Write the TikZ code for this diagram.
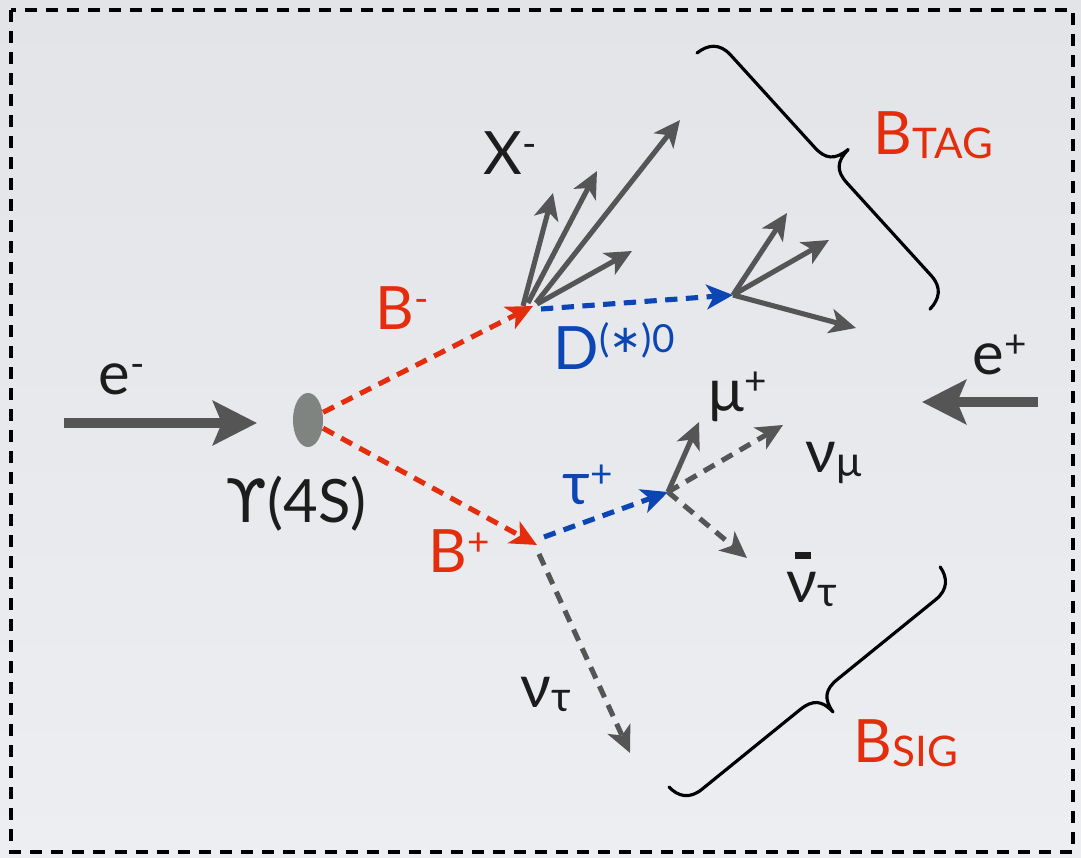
\documentclass[tikz,border=0pt]{standalone}
\usepackage{fontspec}
\setmainfont{Lato}
\newfontfamily\dvs{DejaVu Sans}
\usetikzlibrary{arrows.meta,shapes.geometric}
\definecolor{bgtop}{RGB}{226,228,232}
\definecolor{bgbot}{RGB}{237,238,241}
\definecolor{pred}{RGB}{228,45,12}
\definecolor{pblue}{RGB}{12,70,180}
\definecolor{pgray}{RGB}{85,85,85}
\definecolor{ptext}{RGB}{28,28,28}
\definecolor{blob}{RGB}{127,132,128}
\newcommand\sups[1]{\raisebox{5pt}{\fontsize{11}{13}\selectfont #1}}
\newcommand\subs[1]{\raisebox{-1pt}{\fontsize{12}{14}\selectfont #1}}
\newcommand\nubar{\makebox[0pt][l]{\hspace{2.4pt}\raisebox{12.5pt}{\rule{4.4pt}{2pt}}}ν}
\begin{document}
\begin{tikzpicture}[x=0.01cm,y=-0.01cm,
  lbl/.style={inner sep=0pt, anchor=base west, font=\fontsize{17}{20}\selectfont, text=ptext},
  redlbl/.style={lbl, text=pred},
  bluelbl/.style={lbl, text=pblue},
  prod/.style={draw=pgray, line width=1.45pt, -{Stealth[length=7.5pt,width=7pt,inset=2pt]}},
  dsh/.style={prod, dash pattern=on 3.5pt off 2.4pt},
  reddsh/.style={dsh, draw=pred, -{Stealth[length=7.5pt,width=7pt,inset=2pt,fill=pred]}},
  bluedsh/.style={dsh, draw=pblue, -{Stealth[length=7.5pt,width=7pt,inset=2pt,fill=pblue]}},
  beam/.style={draw=pgray, line width=2.9pt, -{Stealth[length=12.5pt,width=12.5pt,inset=2.5pt]}},
  brc/.style={draw=black, line width=0.9pt, line cap=round, line join=round}]
\useasboundingbox (0,0) rectangle (1081,858);
\shade[top color=bgtop, bottom color=bgbot] (0,0) rectangle (1081,858);
\draw[line width=0.045cm, dash pattern=on 0.12cm off 0.09cm] (11,10) rectangle (1073,852);

% vertices and end points
\node[ellipse, fill=blob, minimum width=0.3cm, minimum height=0.54cm, inner sep=0pt] (Y) at (308,420) {};
\coordinate (vB1) at (533,306);
\coordinate (vD) at (733,295);
\coordinate (vB2) at (537,545);
\coordinate (vT) at (668,492);
\coordinate (dS) at (541,309);
\coordinate (tS) at (544,537);
\coordinate (ntS) at (539,554);
\coordinate (t1) at (553,193);
\coordinate (t2) at (597,171);
\coordinate (t3) at (680,120);
\coordinate (t4) at (632,251);
\coordinate (d1) at (787,213);
\coordinate (d2) at (829,240);
\coordinate (d3) at (856,328);
\coordinate (mu) at (699,422);
\coordinate (nmu) at (783,425);
\coordinate (nbt) at (747,558);
\coordinate (ntau) at (630,753);
\coordinate (emS) at (64,423);
\coordinate (emE) at (257,423);
\coordinate (epS) at (1038,402);
\coordinate (epE) at (922,402);

% beams
\draw[beam] (emS) -- (emE);
\draw[beam] (epS) -- (epE);

% X- products
\draw[prod] ([xshift=-0.1cm]vB1) -- (t1);
\draw[prod] ([xshift=-0.05cm,yshift=0.03cm]vB1) -- (t2);
\draw[prod] ([xshift=0.03cm,yshift=0.03cm]vB1) -- (t3);
\draw[prod] ([xshift=0.04cm,yshift=0.02cm]vB1) -- (t4);
% D products
\draw[prod] (vD) -- (d1);
\draw[prod] (vD) -- (d2);
\draw[prod] (vD) -- (d3);
% tau products
\draw[prod] (vT) -- (mu);
\draw[dsh] (vT) -- (nmu);
\draw[dsh] (vT) -- (nbt);
\draw[dsh] (ntS) -- (ntau);

% B mesons
\draw[reddsh] (Y) -- (vB1);
\draw[reddsh] (Y) -- (vB2);
\draw[bluedsh] (dS) -- (vD);
\draw[bluedsh] (tS) -- (vT);

% brace B_TAG (local frame: x along, y towards tip; units = pixels)
\begin{scope}[shift={(697,53)}, x={(0.00673cm,-0.0074cm)}, y={(0.0074cm,0.00673cm)}]
\draw[brc] (0,0) .. controls (1,14) and (8,23.5) .. (24,23.5) -- (149,23.5)
  .. controls (165,23.5) and (172,30) .. (173,47)
  .. controls (174,30) and (181,23.5) .. (197,23.5) -- (322,23.5)
  .. controls (338,23.5) and (345,14) .. (346,0);
\end{scope}
% brace B_SIG
\begin{scope}[shift={(669,787)}, x={(0.00776cm,0.0063cm)}, y={(0.0063cm,-0.00776cm)}]
\draw[brc] (0,0) .. controls (1,13) and (8,22.5) .. (24,22.5) -- (150.5,22.5)
  .. controls (166.5,22.5) and (173.5,29) .. (174.5,45)
  .. controls (175.5,29) and (182.5,22.5) .. (198.5,22.5) -- (325,22.5)
  .. controls (341,22.5) and (348,13) .. (349,0);
\end{scope}

% labels
\node[lbl] (em) at (98,395) {e\sups{-}};
\node[lbl] (ups) at (225,523) {{\dvs ϒ}(4S)};
\node[redlbl] (bm) at (375,330) {B\sups{-}};
\node[lbl] (xm) at (483,175) {X\sups{-}};
\node[bluelbl] (dz) at (553,370) {D\sups{({\dvs ∗})0}};
\node[bluelbl] (tp) at (562,505) {τ\sups{+}};
\node[redlbl] (bp) at (428,573) {B\sups{+}};
\node[lbl] (nt) at (520,708) {ν\subs{τ}};
\node[lbl] (mp) at (708,412) {μ\sups{+}};
\node[lbl] (nm) at (805,473) {ν\subs{μ}};
\node[lbl] (nbtl) at (786,603) {\nubar\subs{τ}};
\node[lbl] (ep) at (972,375) {e\sups{+}};
\node[redlbl] (btag) at (873,155) {B\subs{TAG}};
\node[redlbl] (bsig) at (853,763) {B\subs{SIG}};
\end{tikzpicture}
\end{document}
